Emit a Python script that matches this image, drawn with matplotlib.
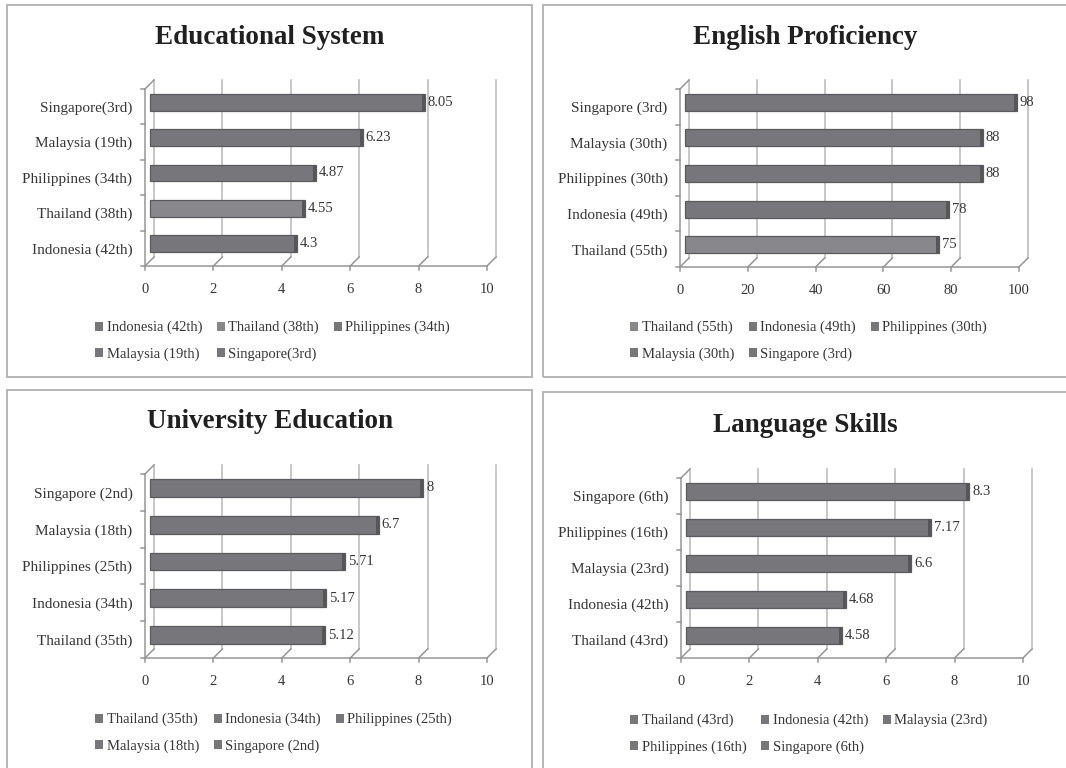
import matplotlib
matplotlib.use('Agg')
import matplotlib.pyplot as plt
from matplotlib.patches import Rectangle, Patch

plt.rcParams['font.family'] = ['Liberation Serif', 'DejaVu Serif']

W, H = 1066, 768

# data, bottom bar first
edu_labels = ['Indonesia (42th)', 'Thailand (38th)', 'Philippines (34th)', 'Malaysia (19th)', 'Singapore(3rd)']
edu_values = [4.3, 4.55, 4.87, 6.23, 8.05]

eng_labels = ['Thailand (55th)', 'Indonesia (49th)', 'Philippines (30th)', 'Malaysia (30th)', 'Singapore (3rd)']
eng_values = [75, 78, 88, 88, 98]

uni_labels = ['Thailand (35th)', 'Indonesia (34th)', 'Philippines (25th)', 'Malaysia (18th)', 'Singapore (2nd)']
uni_values = [5.12, 5.17, 5.71, 6.7, 8]

lang_labels = ['Thailand (43rd)', 'Indonesia (42th)', 'Malaysia (23rd)', 'Philippines (16th)', 'Singapore (6th)']
lang_values = [4.58, 4.68, 6.6, 7.17, 8.3]

edu_ticks = [0, 2, 4, 6, 8, 10]
eng_ticks = [0, 20, 40, 60, 80, 100]
uni_ticks = [0, 2, 4, 6, 8, 10]
lang_ticks = [0, 2, 4, 6, 8, 10]

BAR = '#77777b'
BAR_LIGHT = '#88888c'
CAP = '#55555a'
GRID = '#bdbdbd'
AXIS = '#969696'
TXT = '#363636'
DEPTH = 9  # px, pseudo 3d depth

# panel layout in pixels: box, plot area (front), title centre, legend anchor
panels = [
    dict(title='Educational System', labels=edu_labels, values=edu_values, ticks=edu_ticks, light=[1],
         box=(7, 5, 532, 377), area=(145, 89, 487, 266), tc=(270, 37), leg=(95, 341)),
    dict(title='English Proficiency', labels=eng_labels, values=eng_values, ticks=eng_ticks, light=[0],
         box=(543, 5, 1075, 377), area=(680, 89, 1019, 267), tc=(805, 37), leg=(630, 341)),
    dict(title='University Education', labels=uni_labels, values=uni_values, ticks=uni_ticks, light=[],
         box=(7, 390, 532, 775), area=(145, 474, 487, 658), tc=(270, 422), leg=(95, 733)),
    dict(title='Language Skills', labels=lang_labels, values=lang_values, ticks=lang_ticks, light=[],
         box=(543, 392, 1075, 775), area=(681, 478, 1023, 658), tc=(805, 425), leg=(630, 734)),
]

fig = plt.figure(figsize=(W / 100, H / 100), dpi=100)

for p in panels:
    bx0, by0, bx1, by1 = p['box']
    fig.add_artist(Rectangle((bx0 / W, 1 - by1 / H), (bx1 - bx0) / W, (by1 - by0) / H,
                             transform=fig.transFigure, fill=False, ec='#b0b0b0', lw=1.3))
    fig.text(p['tc'][0] / W, 1 - p['tc'][1] / H, p['title'], ha='center', va='center',
             fontsize=19.5, fontweight='bold', color='#202020')

    x0, y0, x1, y1 = p['area']
    ax = fig.add_axes([x0 / W, 1 - y1 / H, (x1 - x0) / W, (y1 - y0) / H])
    ticks = p['ticks']
    xmax = ticks[-1]
    n = len(p['values'])
    ax.set_xlim(0, xmax)
    ax.set_ylim(-0.5, n - 0.5)
    for s in ax.spines.values():
        s.set_visible(False)

    ux = (x1 - x0) / xmax      # px per data unit
    uy = (y1 - y0) / n
    ddx = DEPTH / ux
    ddy = DEPTH / uy
    lo, hi = -0.5, n - 0.5

    # back wall gridlines
    for t in ticks:
        ax.plot([t + ddx, t + ddx], [lo + ddy, hi + ddy], color=GRID, lw=1.2, clip_on=False, zorder=1)
    # floor
    ax.plot([0, xmax], [lo, lo], color=AXIS, lw=1.1, clip_on=False, zorder=1)
    for t in ticks:
        ax.plot([t, t + ddx], [lo, lo + ddy], color=AXIS, lw=1.1, clip_on=False, zorder=1)
        ax.plot([t, t], [lo, lo - 4 / uy], color=AXIS, lw=1.1, clip_on=False, zorder=1)
    # left wall
    ax.plot([0, 0], [lo, hi], color=AXIS, lw=1.1, clip_on=False, zorder=1)
    ax.plot([0, ddx], [hi, hi + ddy], color=AXIS, lw=1.1, clip_on=False, zorder=1)
    for i in range(n + 1):
        b = lo + i
        ax.plot([-4 / ux, 0], [b, b], color=AXIS, lw=1.1, clip_on=False, zorder=1)

    # bars
    ypos = [i + ddy / 2 for i in range(n)]
    colors = [BAR_LIGHT if i in p['light'] else BAR for i in range(n)]
    ax.barh(ypos, p['values'], left=ddx / 2, height=0.48, color=colors,
            edgecolor='#5a5a5e', lw=0.9, zorder=3, clip_on=False)
    capw = 3 / ux
    ax.barh(ypos, [capw] * n, left=[v + ddx / 2 - capw for v in p['values']], height=0.48,
            color=CAP, lw=0, zorder=4, clip_on=False)
    for yy, v in zip(ypos, p['values']):
        ax.text(v + ddx / 2 + 3 / ux, yy, f'{v:g}', ha='left', va='center',
                fontsize=10.5, color=TXT, zorder=5)

    ax.set_yticks(range(n))
    ax.set_yticklabels(p['labels'], fontsize=11, color=TXT)
    ax.set_xticks(ticks)
    ax.set_xticklabels([str(t) for t in ticks], fontsize=10.5, color=TXT)
    ax.tick_params(axis='y', length=0, pad=9)
    ax.tick_params(axis='x', length=0, pad=12)

    # legend, row-major order in 3 columns
    handles = [Patch(facecolor=c, edgecolor='none') for c in colors]
    order = [0, 3, 1, 4, 2]
    ax.legend([handles[i] for i in order], [p['labels'][i] for i in order],
              ncol=3, loc='center left', bbox_to_anchor=(p['leg'][0] / W, 1 - p['leg'][1] / H),
              bbox_transform=fig.transFigure, frameon=False, fontsize=10.5,
              handlelength=0.55, handleheight=0.55, handletextpad=0.25,
              columnspacing=1.0, labelspacing=0.9, borderpad=0, borderaxespad=0,
              labelcolor=TXT)

fig.savefig('out.png', dpi=100)
